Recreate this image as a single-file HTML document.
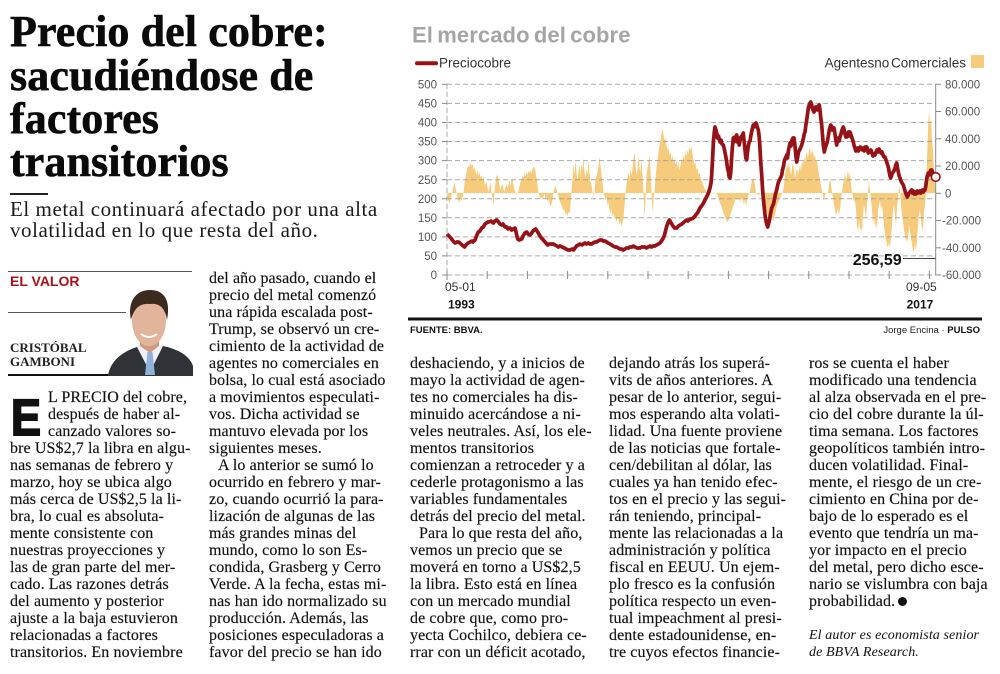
<!DOCTYPE html>
<html>
<head>
<meta charset="utf-8">
<style>
html,body{margin:0;padding:0;background:#fff;}
body{width:1000px;height:674px;position:relative;overflow:hidden;}
.serif{font-family:"Liberation Serif","DejaVu Serif",serif;}
.sans{font-family:"Liberation Sans","DejaVu Sans",sans-serif;}
#head{position:absolute;left:10px;top:10.15px;font-size:44px;line-height:43.4px;font-weight:bold;color:#0a0a0a;letter-spacing:0.1px;white-space:nowrap;-webkit-text-stroke:0.6px #0a0a0a;}
#sub{position:absolute;left:10px;top:199.3px;font-size:21px;line-height:20.6px;color:#1a1a1a;letter-spacing:0.55px;white-space:nowrap;}
.rule{position:absolute;background:#222;}
.col{position:absolute;font-size:16px;line-height:17px;color:#111;white-space:nowrap;letter-spacing:0.1px;-webkit-text-stroke:0.15px #111;}
.col div{height:17px;}
.ind{padding-left:9px;}
.dc{padding-left:38px;}
#valor{position:absolute;left:10px;top:274.1px;font-size:14px;line-height:14px;font-weight:bold;color:#a8121a;white-space:nowrap;}
#author{position:absolute;left:10px;top:340.5px;font-size:13px;line-height:14px;font-weight:bold;color:#222;}
#dropE{position:absolute;left:11px;top:391.8px;font-size:51px;line-height:51px;font-weight:bold;color:#111;-webkit-text-stroke:2px #111;transform:scaleX(0.88);transform-origin:left top;}
.it{font-style:italic;font-size:14px;-webkit-text-stroke:0;}
.pm{display:inline-block;width:9px;height:9px;border-radius:50%;background:#111;vertical-align:0px;margin-left:3px;}
svg{position:absolute;left:0;top:0;}
</style>
</head>
<body>

<div id="head" class="serif">Precio del cobre:<br>sacudiéndose de<br>factores<br>transitorios</div>
<div class="rule" style="left:10px;top:193px;width:38px;height:2px;"></div>
<div id="sub" class="serif">El metal continuará afectado por una alta<br>volatilidad en lo que resta del año.</div>

<!-- author block -->
<div class="rule" style="left:8px;top:271px;width:184px;height:1px;background:#555;"></div>
<div id="valor" class="sans">EL VALOR</div>
<div class="rule" style="left:8px;top:312px;width:118px;height:1px;background:#555;"></div>
<div id="author" class="serif">CRISTÓBAL<br>GAMBONI</div>
<div class="rule" style="left:8px;top:374px;width:184px;height:2px;background:#111;"></div>

<div id="dropE" class="sans">E</div>

<div class="col serif" style="left:10px;top:388.6px;">
<div class="dc">L PRECIO del cobre,</div>
<div class="dc">después de haber al-</div>
<div class="dc">canzado valores so-</div>
<div>bre US$2,7 la libra en algu-</div>
<div>nas semanas de febrero y</div>
<div>marzo, hoy se ubica algo</div>
<div>más cerca de US$2,5 la li-</div>
<div>bra, lo cual es absoluta-</div>
<div>mente consistente con</div>
<div>nuestras proyecciones y</div>
<div>las de gran parte del mer-</div>
<div>cado. Las razones detrás</div>
<div>del aumento y posterior</div>
<div>ajuste a la baja estuvieron</div>
<div>relacionadas a factores</div>
<div>transitorios. En noviembre</div>
</div>

<div class="col serif" style="left:209px;top:269.6px;">
<div>del año pasado, cuando el</div>
<div>precio del metal comenzó</div>
<div>una rápida escalada post-</div>
<div>Trump, se observó un cre-</div>
<div>cimiento de la actividad de</div>
<div>agentes no comerciales en</div>
<div>bolsa, lo cual está asociado</div>
<div>a movimientos especulati-</div>
<div>vos. Dicha actividad se</div>
<div>mantuvo elevada por los</div>
<div>siguientes meses.</div>
<div class="ind">A lo anterior se sumó lo</div>
<div>ocurrido en febrero y mar-</div>
<div>zo, cuando ocurrió la para-</div>
<div>lización de algunas de las</div>
<div>más grandes minas del</div>
<div>mundo, como lo son Es-</div>
<div>condida, Grasberg y Cerro</div>
<div>Verde. A la fecha, estas mi-</div>
<div>nas han ido normalizado su</div>
<div>producción. Además, las</div>
<div>posiciones especuladoras a</div>
<div>favor del precio se han ido</div>
</div>

<div class="col serif" style="left:410px;top:354.6px;">
<div>deshaciendo, y a inicios de</div>
<div>mayo la actividad de agen-</div>
<div>tes no comerciales ha dis-</div>
<div>minuido acercándose a ni-</div>
<div>veles neutrales. Así, los ele-</div>
<div>mentos transitorios</div>
<div>comienzan a retroceder y a</div>
<div>cederle protagonismo a las</div>
<div>variables fundamentales</div>
<div>detrás del precio del metal.</div>
<div class="ind">Para lo que resta del año,</div>
<div>vemos un precio que se</div>
<div>moverá en torno a US$2,5</div>
<div>la libra. Esto está en línea</div>
<div>con un mercado mundial</div>
<div>de cobre que, como pro-</div>
<div>yecta Cochilco, debiera ce-</div>
<div>rrar con un déficit acotado,</div>
</div>

<div class="col serif" style="left:609px;top:354.6px;">
<div>dejando atrás los superá-</div>
<div>vits de años anteriores. A</div>
<div>pesar de lo anterior, segui-</div>
<div>mos esperando alta volati-</div>
<div>lidad. Una fuente proviene</div>
<div>de las noticias que fortale-</div>
<div>cen/debilitan al dólar, las</div>
<div>cuales ya han tenido efec-</div>
<div>tos en el precio y las segui-</div>
<div>rán teniendo, principal-</div>
<div>mente las relacionadas a la</div>
<div>administración y política</div>
<div>fiscal en EEUU. Un ejem-</div>
<div>plo fresco es la confusión</div>
<div>política respecto un even-</div>
<div>tual impeachment al presi-</div>
<div>dente estadounidense, en-</div>
<div>tre cuyos efectos financie-</div>
</div>

<div class="col serif" style="left:809px;top:354.6px;">
<div>ros se cuenta el haber</div>
<div>modificado una tendencia</div>
<div>al alza observada en el pre-</div>
<div>cio del cobre durante la úl-</div>
<div>tima semana. Los factores</div>
<div>geopolíticos también intro-</div>
<div>ducen volatilidad. Final-</div>
<div>mente, el riesgo de un cre-</div>
<div>cimiento en China por de-</div>
<div>bajo de lo esperado es el</div>
<div>evento que tendría un ma-</div>
<div>yor impacto en el precio</div>
<div>del metal, pero dicho esce-</div>
<div>nario se vislumbra con baja</div>
<div>probabilidad.<span class="pm"></span></div>
<div></div>
<div class="it">El autor es economista senior</div>
<div class="it">de BBVA Research.</div>
</div>

<svg width="1000" height="674" viewBox="0 0 1000 674" xmlns="http://www.w3.org/2000/svg">
  <!-- photo -->
  <g>
    <path d="M108,376 C110,362 121,352 137,347 L150,357 L163,346 C178,349 190,356 193,366 L193,376 Z" fill="#2f3338"/>
    <path d="M137,347 L150,372 L163,346 L157,343 L150,351 L143,343 Z" fill="#eef0f3"/>
    <path d="M147.5,352 L152.5,352 L155,375 L145,375 Z" fill="#8fb2da"/>
    <path d="M140,333 L159,333 L159,346 L150,353 L140,346 Z" fill="#cf9b82"/>
    <ellipse cx="149" cy="321" rx="17" ry="25" fill="#e2b49b"/>
    <path d="M131,320 C127,300 137,290 150,290 C164,290 171,300 167,320 C165,308 160,303 150,304 C140,303 134,308 131,320 Z" fill="#3a2a20"/>
    <path d="M141,334 Q149,340 157,334" stroke="#fff" stroke-width="2" fill="none"/>
  </g>

  <!-- chart title & legend -->
  <text x="412" y="42.3" font-family="Liberation Sans, sans-serif" font-weight="bold" font-size="22" fill="#a5a5a5" letter-spacing="0.1" word-spacing="-2">El mercado del cobre</text>
  <line x1="417" y1="63.3" x2="436" y2="63.3" stroke="#9b1116" stroke-width="4" stroke-linecap="round"/>
  <text x="439" y="67.7" font-family="Liberation Sans, sans-serif" font-size="13.5" fill="#333">Preciocobre</text>
  <text x="966" y="67.7" text-anchor="end" font-family="Liberation Sans, sans-serif" font-size="13.5" fill="#333" word-spacing="-2">Agentesno Comerciales</text>
  <rect x="971" y="55" width="13" height="13" fill="#f6cb7c"/>

  <!-- yellow area (right axis, zero at 193) -->
  <polygon fill="#f6cb7c" points="447,193 448,200 449.5,203 451,198 452.5,192 453.5,186 454.5,183 455.5,188 456.5,192 457.5,197 459,203 460.5,199 462,201 463.5,192 465,180 466.5,172 467.5,168 468.5,165 469.5,167 470.5,163 471.5,166 472.5,164 473.5,170 474.5,167 475.5,172 476.5,175 477.5,170 478.5,176 479.5,172 480.5,178 481.5,175 482.5,180 483.5,176 484.5,182 485.5,185 486.5,182 487.5,188 488.5,192 489.5,187 490.5,182 491.5,192 492.5,198 493.5,205 494.5,192 495.5,182 496.5,176 497.5,175 498.5,179 499.5,186 500.5,190 501.5,186 502.5,184 503.5,189 504.5,192 505.5,187 506.5,184 507.5,188 508.5,185 509.5,180 510.5,186 511.5,180 512.5,179 513.5,185 514.5,190 515.5,192 516.5,195 517.5,193 518.5,192 519.5,186 520.5,182 521.5,180 522.5,176 523.5,178 524.5,174 525.5,176 526.5,172 527.5,175 528.5,171 529.5,173 530.5,170 531.5,174 532.5,169 533.5,167 534.5,167 535.5,172 536.5,178 537.5,185 538.5,192 539.5,196 540.5,199 541.5,197 542.5,200 543.5,196 544.5,194 545.5,199 546.5,197 547.5,202 548.5,199 549.5,203 550.5,207 551.5,204 552.5,200 553.5,192 554.5,188 555.5,186 556.5,190 557.5,192 558.5,197 559.5,200 560.5,203 561.5,205 562.5,208 563.5,211 564.5,209 565.5,214 566.5,213 567.5,216 568.5,212 569.5,214 570.5,205 571.5,192 572.5,178 573.5,165 574.5,175 575.5,160 576.5,172 577.5,180 578.5,170 579.5,165 580.5,176 581.5,163 582.5,170 583.5,158 584.5,172 585.5,178 586.5,169 587.5,175 588.5,160 589.5,174 590.5,182 591.5,185 592.5,192 593.5,196 594.5,192 595.5,180 596.5,176 597.5,172 598.5,166 599.5,157 600.5,165 601.5,175 602.5,182 603.5,192 604.5,196 605.5,200 606.5,197 607.5,205 608.5,203 609.5,210 610.5,214 611.5,208 612.5,217 613.5,213 614.5,219 615.5,215 616.5,222 617.5,218 618.5,219 619.5,224 620.5,221 621.5,227 622.5,223 623.5,218 624.5,206 625.5,192 626.5,185 627.5,178 628.5,172 629.5,178 630.5,168 631.5,175 632.5,170 633.5,158 634.5,152 635.5,165 636.5,175 637.5,170 638.5,155 639.5,168 640.5,172 641.5,158 642.5,175 643.5,192 644.5,218 645.5,200 646.5,175 647.5,168 648.5,162 649.5,155 650.5,170 651.5,192 652.5,213 653.5,200 654.5,192 655.5,178 656.5,168 657.5,160 658.5,152 659.5,145 660.5,140 661.5,133 662.5,128 663.5,135 664.5,140 665.5,138 666.5,145 667.5,150 668.5,148 669.5,155 670.5,152 671.5,160 672.5,155 673.5,163 674.5,158 675.5,165 676.5,160 677.5,168 678.5,162 679.5,170 680.5,165 681.5,158 682.5,162 683.5,155 684.5,160 685.5,152 686.5,156 687.5,150 688.5,154 689.5,147 690.5,150 691.5,146 692.5,155 693.5,160 694.5,165 695.5,162 696.5,170 697.5,168 698.5,175 699.5,172 700.5,178 701.5,180 702.5,183 703.5,186 704.5,188 705.5,190 706.5,192 708,194 710,191 712,194 714,192 716,194 717,193 718,196 719,200 720,203 721,205 722,208 723,211 724,214 725,217 726,220 727,221 728,222 729,219 730,216 731,213 732,210 733,206 734,204 735,200 736,198 737,200 738,197 739,201 740,199 741,202 742,198 743,200 744,205 745,198 746,207 747,200 748,196 749,193 750,192 751,185 752,180 753,178 754,181 755,185 756,192 757,194 759,195 761,193 763,195 764,200 765,205 766,209 767,213 768,216 769,219 770,222 771,220 772,217 773,221 774,218 775,214 776,210 777,205 778,203 779,200 780,198 781,196 782,193 783,192 784,185 785,175 786,170 787,165 788,168 789,162 790,170 791,175 792,168 793,163 794,170 795,178 796,172 797,168 798,175 799,170 800,165 801,172 802,160 803,165 804,158 805,162 806,155 807,152 808,158 809,150 810,148 811,155 812,150 813,152 814,158 815,155 816,162 817,160 818,168 819,175 820,180 821,186 822,192 823,196 824,200 825,195 826,193 828,193 829,185 830,178 831,185 832,192 833,198 834,205 835,210 836,215 837,212 838,208 839,215 840,210 841,200 842,192 843,185 844,180 845,172 846,180 847,176 848,170 849,178 850,172 851,185 852,192 853,198 854,202 855,200 856,210 857,225 858,232 859,220 860,230 861,228 862,232 863,215 864,205 865,210 866,220 867,205 868,192 869,180 870,192 871,200 872,210 873,225 874,215 875,228 876,222 877,230 878,210 879,205 880,200 881,210 882,205 883,215 884,225 885,235 886,240 887,245 888,248 889,242 890,248 891,238 892,225 893,210 894,205 895,215 896,225 897,208 898,200 899,185 900,192 901,205 902,215 903,222 904,230 905,235 906,242 907,238 908,242 909,225 910,232 911,238 912,245 913,250 914,252 915,244 916,251 917,240 918,225 919,215 920,210 921,220 922,230 923,228 924,212 925,205 926,192 927,160 928,130 929,110 930,125 931,118 932,140 933,150 934,170 935,185 936,193"/>

  <!-- gridlines -->
  <g stroke="#9c9c9c" stroke-width="1" stroke-dasharray="5,3" opacity="0.85">
    <line x1="447" y1="84.3" x2="936" y2="84.3"/>
    <line x1="447" y1="103.4" x2="936" y2="103.4"/>
    <line x1="447" y1="122.4" x2="936" y2="122.4"/>
    <line x1="447" y1="141.5" x2="936" y2="141.5"/>
    <line x1="447" y1="160.6" x2="936" y2="160.6"/>
    <line x1="447" y1="179.7" x2="936" y2="179.7"/>
    <line x1="447" y1="198.7" x2="936" y2="198.7"/>
    <line x1="447" y1="217.8" x2="936" y2="217.8"/>
    <line x1="447" y1="236.9" x2="936" y2="236.9"/>
    <line x1="447" y1="255.9" x2="936" y2="255.9"/>
    <line x1="447" y1="275" x2="936" y2="275"/>
    <line x1="447" y1="84" x2="447" y2="275"/>
  </g>
  <line x1="935.7" y1="84" x2="935.7" y2="275.5" stroke="#888" stroke-width="1"/>
  <!-- ticks -->
  <g stroke="#888" stroke-width="1">
    <line x1="442" y1="84.3" x2="447" y2="84.3"/>
    <line x1="442" y1="103.4" x2="447" y2="103.4"/>
    <line x1="442" y1="122.4" x2="447" y2="122.4"/>
    <line x1="442" y1="141.5" x2="447" y2="141.5"/>
    <line x1="442" y1="160.6" x2="447" y2="160.6"/>
    <line x1="442" y1="179.7" x2="447" y2="179.7"/>
    <line x1="442" y1="198.7" x2="447" y2="198.7"/>
    <line x1="442" y1="217.8" x2="447" y2="217.8"/>
    <line x1="442" y1="236.9" x2="447" y2="236.9"/>
    <line x1="442" y1="255.9" x2="447" y2="255.9"/>
    <line x1="442" y1="275" x2="447" y2="275"/>
    <line x1="935.7" y1="84.3" x2="941" y2="84.3"/>
    <line x1="935.7" y1="111.5" x2="941" y2="111.5"/>
    <line x1="935.7" y1="138.8" x2="941" y2="138.8"/>
    <line x1="935.7" y1="166" x2="941" y2="166"/>
    <line x1="935.7" y1="193.3" x2="941" y2="193.3"/>
    <line x1="935.7" y1="220.5" x2="941" y2="220.5"/>
    <line x1="935.7" y1="247.8" x2="941" y2="247.8"/>
    <line x1="935.7" y1="275" x2="941" y2="275"/>
    <line x1="447" y1="271" x2="447" y2="280"/>
    <line x1="487.2" y1="271" x2="487.2" y2="279"/>
    <line x1="527.4" y1="271" x2="527.4" y2="279"/>
    <line x1="567.6" y1="271" x2="567.6" y2="279"/>
    <line x1="607.8" y1="271" x2="607.8" y2="279"/>
    <line x1="648" y1="271" x2="648" y2="279"/>
    <line x1="688.2" y1="271" x2="688.2" y2="279"/>
    <line x1="728.4" y1="271" x2="728.4" y2="279"/>
    <line x1="768.6" y1="271" x2="768.6" y2="279"/>
    <line x1="808.8" y1="271" x2="808.8" y2="279"/>
    <line x1="849" y1="271" x2="849" y2="279"/>
    <line x1="889.2" y1="271" x2="889.2" y2="279"/>
    <line x1="929.4" y1="271" x2="929.4" y2="279"/>
  </g>

  <!-- left axis labels -->
  <g font-family="Liberation Sans, sans-serif" font-size="11.5" fill="#555" text-anchor="end">
    <text x="437" y="88.4">500</text>
    <text x="437" y="107.5">450</text>
    <text x="437" y="126.5">400</text>
    <text x="437" y="145.6">350</text>
    <text x="437" y="164.7">300</text>
    <text x="437" y="183.8">250</text>
    <text x="437" y="202.8">200</text>
    <text x="437" y="221.9">150</text>
    <text x="437" y="241">100</text>
    <text x="437" y="260">50</text>
    <text x="437" y="279.1">0</text>
  </g>
  <!-- right axis labels -->
  <g font-family="Liberation Sans, sans-serif" font-size="11.5" fill="#555">
    <text x="945" y="88.4">80.000</text>
    <text x="945" y="115.6">60.000</text>
    <text x="945" y="142.9">40.000</text>
    <text x="945" y="170.1">20.000</text>
    <text x="945" y="197.4">0</text>
    <text x="942" y="224.6">-20.000</text>
    <text x="942" y="251.9">-40.000</text>
    <text x="942" y="279.1">-60.000</text>
  </g>

  <!-- price line -->
  <polyline fill="none" stroke="#961216" stroke-width="3.7" stroke-linejoin="round" points="447,234 449,236 451.7,239 453,241 455,243 456.7,242 458.3,242 460,243 462,245 463.3,246 464.5,247 466,245 468,243 470,242 472,241 473,242 475,240 476.5,236 478.3,232 480,231 481.7,228 483.3,227 485,224 487.7,222 489,222 491,221 493.3,223 495,221 496.7,220 498.5,222 500,224 501.7,225 503,224 505,227 506.7,227 508,229 510,228 511.7,230 513,229 515,228 516,232 517.7,239 519,240 521.7,239 523,236 525,233 526.7,232 528,234 530,235 531,234 533,231 535.7,229 537,231 538.3,233 540,236 541.5,238 543.3,240 545,242 547.7,245 549,244 551,244 553.3,244 555,245 557,246 558.3,247 560,246 562,247 564.3,248 566,249 568,250 570,250 572,249 573.5,250 575,248 576.5,246 578.3,245 580,244 582,245 583.3,244 585,243 586.5,244 588.3,243 590,244 591.7,244 593,243 595,242 596.7,242 598,241 600,240 601.7,240 603,241 605,241 606.7,242 608,243 610,244 611.7,245 613,246 615,247 616.5,247 618.3,248 620,249 621.5,249 623.3,250 625,249 626.5,248 628.3,248 630,247 632,247 633.5,246 635,247 637,248 638.5,248 640,248 641.5,247 643,247 645,247 646.5,248 648,247 650,246 651.7,247 653,246 655,246 656.5,245 658.3,244 660,243 661.5,241 663.3,238 664.5,235 665.5,231 666.5,227 667.5,224 668.3,222 669.5,220 670.5,222 671.7,224 673,226 674.5,228 676.7,228 678.5,226 680,225 682,224 684,222 686.7,220 688,221 690,219 691.5,219 693.3,218 695,216 696.5,214 698,212 700,208 701.5,206 703,204 705,200 706.5,197 708,194 709,191 710,188 711,183 711.7,175 712.5,160 713.5,140 714.5,130 715,127 716,130 716.7,133 717.5,138 718.5,136 720,142 721,140 722,144 723.3,145 724.5,150 725.5,155 726.7,162 727.5,168 728.5,172 729.2,177 730,178 730.8,172 731.5,160 732.3,148 733.3,138 734.2,142 735,137 736,140 736.7,135 737.5,142 738.3,138 739.2,145 740,141 741,137 742,136 743.3,133 744,140 745,150 745.8,158 746.7,160 747.5,152 748.3,146 749.2,142 750,141 751,135 752,130 753.3,125 754.2,127 755,124 756,123 757,126 758.3,130 759,135 759.8,145 760.6,160 761.7,175 762.5,188 763.3,198 764.2,207 765,215 765.8,220 766.7,224 767.7,227 768.5,224 769.5,220 770.5,214 771.7,208 772.5,206 773.5,204 774.5,199 775.5,194 776.7,190 777.7,185 778.5,182 779.5,180 780.5,178 781.7,175 782.5,170 783.5,166 784.5,160 785.5,158 786.7,155 787.5,158 788.5,150 790,143 791,146 792,140 793,138 794,138 795,146 795.8,155 796.7,162 797.5,158 798.5,152 799.5,150 800.5,148 801.7,145 802.5,142 803.5,138 804.2,134 805,132 806,124 807,118 808.3,108 809.2,105 810,103 810.7,102 811.5,104 812.2,108 813,110 814,112 814.8,109 815.6,107 816.7,107 817.5,110 818.3,106 819.3,105 820,110 820.8,118 821.7,125 822.5,135 823.3,145 824.3,152 825.2,148 826.2,145 827.3,142 828.3,136 829.3,130 830.7,125 831.5,126 832.3,130 833,128 834,128 835,134 835.8,140 836.7,145 837.5,140 838.5,138 839.2,141 840,137 841,134 842,130 843.3,127 844.2,130 845,134 845.8,137 846.7,137 847.5,134 848.5,132 849.2,136 850,132 851,135 852,138 853.3,142 854.2,146 855,148 855.8,151 856.7,150 857.5,148 858.5,151 859.3,149 860.2,147 861.7,148 862.5,150 863.5,148 864.3,151 865.2,147 866.7,147 867.5,149 868.3,153 869.2,151 870,152 871,150 872,153 873,156 874,154 875,155 876,152 877,150 878,152 879,149 880,151 881,153 882,152 883,155 884,157 885,157 886,160 887,163 888.3,167 889.2,172 890,176 890.7,178 891.5,176 892.3,173 893.2,172 894,171 895,168 895.8,165 896.7,163 897.5,168 898.3,172 899.2,176 900,178 901,181 902,183 903.3,185 904.2,188 905,191 906,194 907.3,197 908.2,195 909,193 910,192 910.8,191 911.7,190 912.5,193 913.3,191 914.2,194 915,192 916,194 916.7,193 917.5,191 918.3,193 919.2,192 920,191 921,193 921.7,192 922.5,190 923.3,192 924.2,191 925,190 925.8,186 926.5,180 927.3,176 928.3,173 929.2,175 930,172 930.8,170 931.7,170 932.5,172 933.3,173 934.2,175 935.7,177"/>
  <circle cx="935.7" cy="177" r="4.3" fill="#fff" stroke="#961216" stroke-width="1.6"/>

  <!-- value callout -->
  <line x1="903" y1="258.5" x2="935.7" y2="258.5" stroke="#444" stroke-width="1"/>
  <text x="852.7" y="265" font-family="Liberation Sans, sans-serif" font-weight="bold" font-size="16" fill="#111">256,59</text>

  <!-- x labels -->
  <g font-family="Liberation Sans, sans-serif" font-size="12" fill="#333">
    <text x="445" y="291">05-01</text>
    <text x="448" y="308.3" font-weight="bold" fill="#111">1993</text>
    <text x="936.7" y="291" text-anchor="end">09-05</text>
    <text x="933.3" y="308.3" text-anchor="end" font-weight="bold" fill="#111">2017</text>
  </g>

  <!-- footer of chart -->
  <rect x="408" y="317.5" width="574" height="3" fill="#111"/>
  <text x="410" y="333" font-family="Liberation Sans, sans-serif" font-weight="bold" font-size="9.5" fill="#111">FUENTE: BBVA.</text>
  <text x="980" y="333" text-anchor="end" font-family="Liberation Sans, sans-serif" font-size="9.5" fill="#222">Jorge Encina · <tspan font-weight="bold" fill="#111">PULSO</tspan></text>
</svg>

</body>
</html>
